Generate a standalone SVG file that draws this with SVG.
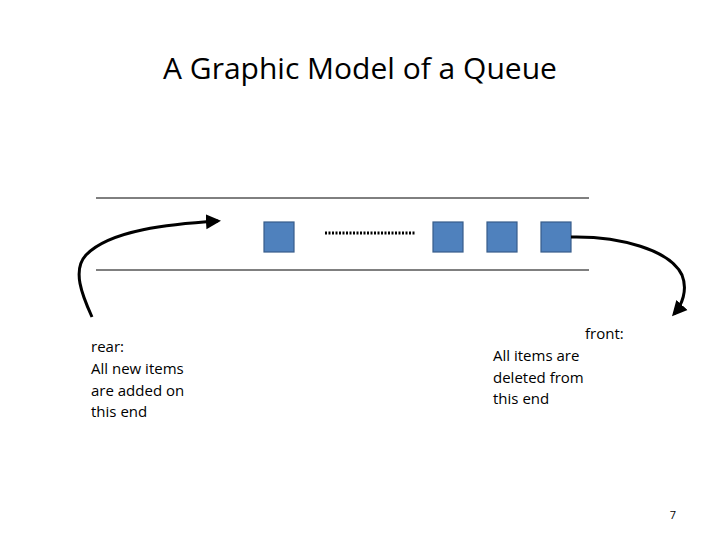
<svg xmlns="http://www.w3.org/2000/svg" width="720" height="540" viewBox="0 0 720 540">
<defs>
<style>
.t{font-family:"Open Sans","Liberation Sans",sans-serif;fill:#000}
.box{fill:#4f81bd;stroke:#385d8a;stroke-width:1.2}
.c{fill:none;stroke:#000;stroke-width:3}
</style>
<marker id="a" markerWidth="6" markerHeight="6" refX="4" refY="3" orient="auto" markerUnits="strokeWidth"><path d="M0,0.5 L5,3 L0,5.5 z" fill="#000"/></marker>
</defs>
<rect width="720" height="540" fill="#fff"/>
<text class="t" x="360" y="79" font-size="30" text-anchor="middle">A Graphic Model of a Queue</text>
<g id="rails"><line x1="96" y1="198" x2="589" y2="198" stroke="#000"/><line x1="96" y1="270" x2="589" y2="270" stroke="#000"/></g>
<g id="n1"><rect class="box" x="264" y="222" width="30" height="30"/></g>
<g id="dots"><line x1="325" y1="233" x2="415" y2="233" stroke="#000" stroke-width="3" stroke-dasharray="2,1.5"/></g>
<g id="n2"><rect class="box" x="433" y="222" width="30" height="30"/></g>
<g id="n3"><rect class="box" x="487" y="222" width="30" height="30"/></g>
<g id="n4"><rect class="box" x="541" y="222" width="30" height="30"/></g>
<g id="connectors">
<path class="c" d="M92,317 C82,295 72,270 86,255 C110,230 170,224 218,221" marker-end="url(#a)"/>
<path class="c" d="M571,237 C620,236 670,250 682,275 C688,290 682,305 674,314" marker-end="url(#a)"/>
</g>
<g id="rear"><text class="t" font-size="15"><tspan x="91" y="352">rear:</tspan><tspan x="91" y="374">All new items</tspan><tspan x="91" y="396">are added on</tspan><tspan x="91" y="417">this end</tspan></text></g>
<g id="front"><text class="t" font-size="15"><tspan x="585" y="339">front:</tspan><tspan x="493" y="361">All items are</tspan><tspan x="493" y="383">deleted from</tspan><tspan x="493" y="404">this end</tspan></text></g>
<text class="t" x="676" y="519" font-size="11" text-anchor="end" fill="#888">7</text>
</svg>
